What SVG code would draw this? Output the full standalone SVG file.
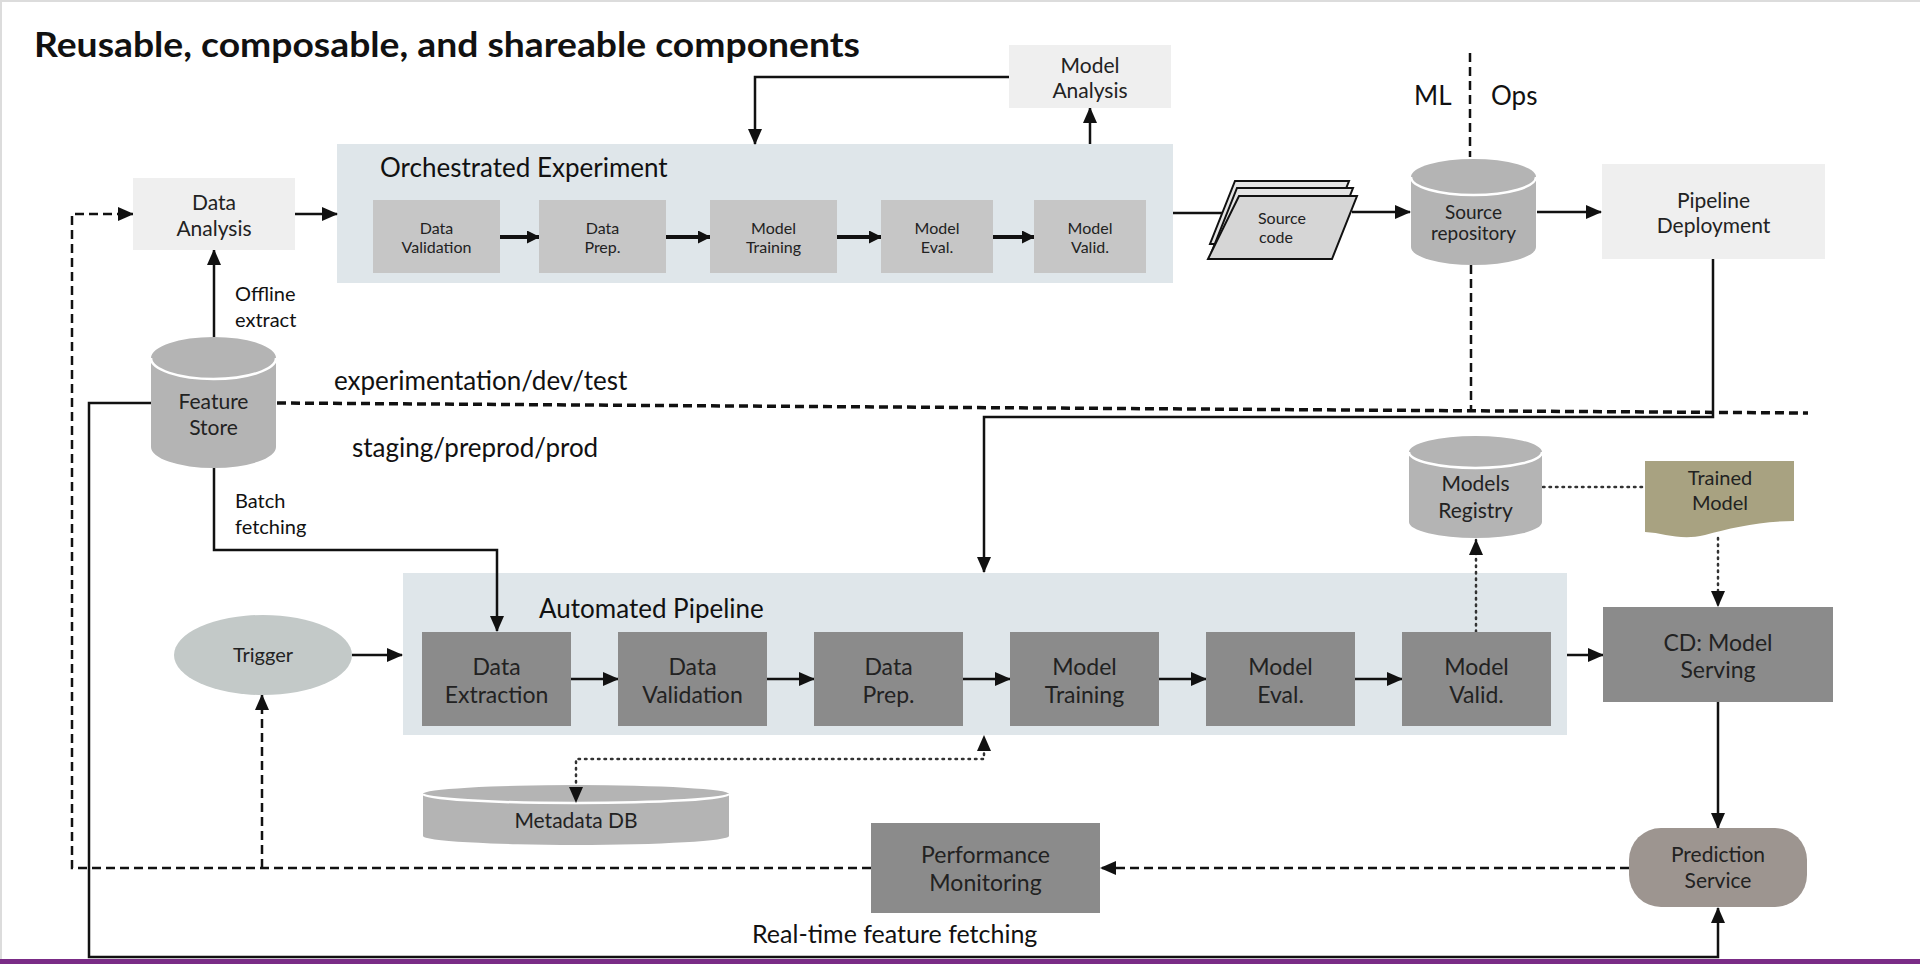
<svg xmlns="http://www.w3.org/2000/svg" width="1920" height="964" viewBox="0 0 1920 964">
<defs>
<style>
.t{font-family:Lato,"Liberation Sans",sans-serif;fill:#222;text-anchor:middle}
.lbl{font-family:Lato,"Liberation Sans",sans-serif;fill:#111}
.cont{fill:#dfe6ea}
.light{fill:#efefef}
.small{fill:#c6c6c6}
.dark{fill:#8b8b8b}
.cyl{fill:#b4b4b4}
.rim{fill:none;stroke:#fff;stroke-width:2.5}
.ln{fill:none;stroke:#111;stroke-width:2.5}
.thick{fill:none;stroke:#111;stroke-width:4}
.dash{fill:none;stroke:#111;stroke-width:2.5;stroke-dasharray:9 5}
.env{fill:none;stroke:#111;stroke-width:3.5;stroke-dasharray:9 5}
.dot{fill:none;stroke:#333;stroke-width:2.5;stroke-dasharray:1.5 5;stroke-linecap:round}
</style>
<marker id="ah" markerUnits="userSpaceOnUse" markerWidth="16" markerHeight="14" refX="15" refY="7" orient="auto-start-reverse" viewBox="0 0 16 14"><path d="M0,0 L16,7 L0,14 z" fill="#111"/></marker>
<marker id="ahs" markerUnits="userSpaceOnUse" markerWidth="13" markerHeight="13" refX="12" refY="6.5" orient="auto-start-reverse" viewBox="0 0 13 13"><path d="M0,0 L13,6.5 L0,13 z" fill="#111"/></marker>
</defs>
<rect x="0" y="0" width="1920" height="964" fill="#fff"/>
<line x1="0" y1="1" x2="1920" y2="1" stroke="#dcdcdc" stroke-width="2"/>
<line x1="1" y1="0" x2="1" y2="960" stroke="#dcdcdc" stroke-width="2"/>
<rect x="0" y="959" width="1920" height="5" fill="#7a2c86"/>

<text class="lbl" x="34" y="57" font-size="34" font-weight="bold" textLength="826" lengthAdjust="spacingAndGlyphs">Reusable, composable, and shareable components</text>

<!-- environment labels -->
<text class="lbl" x="334" y="390" font-size="26">experimentation/dev/test</text>
<text class="lbl" x="352" y="457" font-size="26">staging/preprod/prod</text>
<text class="lbl" x="1414" y="105" font-size="26">ML</text>
<text class="lbl" x="1491" y="105" font-size="26">Ops</text>
<text class="lbl" x="235" y="301" font-size="20">Offline</text>
<text class="lbl" x="235" y="327" font-size="20">extract</text>
<text class="lbl" x="235" y="508" font-size="20">Batch</text>
<text class="lbl" x="235" y="534" font-size="20">fetching</text>
<text class="lbl" x="752" y="943" font-size="25">Real-time feature fetching</text>

<!-- containers -->
<g id="orchestrated-experiment">
<rect class="cont" x="337" y="144" width="836" height="139"/>
<text class="lbl" x="380" y="177" font-size="26">Orchestrated Experiment</text>
</g>
<g id="automated-pipeline">
<rect class="cont" x="403" y="573" width="1164" height="162"/>
<text class="lbl" x="539" y="618" font-size="26">Automated Pipeline</text>
</g>

<!-- connectors -->
<g id="connectors">
<!-- environment separator & ML/Ops -->
<path class="env" d="M277,403 L1808,413"/>
<path class="dash" d="M1470,53 V157 M1471,265 V410"/>
<!-- top row -->
<path class="ln" d="M295,214 H337" marker-end="url(#ah)"/>
<path class="dash" d="M871,868 H72 V214 H133" marker-end="url(#ah)"/>
<path class="ln" d="M214,337 V250" marker-end="url(#ah)"/>
<path class="ln" d="M1009,77 H755 V144" marker-end="url(#ah)"/>
<path class="ln" d="M1090,144 V108" marker-end="url(#ah)"/>
<path class="thick" d="M500,237 H539" marker-end="url(#ahs)"/>
<path class="thick" d="M666,237 H710" marker-end="url(#ahs)"/>
<path class="thick" d="M837,237 H881" marker-end="url(#ahs)"/>
<path class="thick" d="M993,237 H1034" marker-end="url(#ahs)"/>
<path class="ln" d="M1173,213 H1230"/>
<path class="ln" d="M1352,212 H1410" marker-end="url(#ah)"/>
<path class="ln" d="M1537,212 H1601" marker-end="url(#ah)"/>
<!-- deployment to automated pipeline -->
<path class="ln" d="M1713,259 V417 H984 V572" marker-end="url(#ah)"/>
<!-- feature store batch fetching -->
<path class="ln" d="M214,468 V550 H497 V631" marker-end="url(#ah)"/>
<!-- real-time feature fetching -->
<path class="ln" d="M151,403 H89 V957 H1718 V908" marker-end="url(#ah)"/>
<!-- trigger -->
<path class="ln" d="M352,655 H402" marker-end="url(#ah)"/>
<path class="dash" d="M262,868 V695" marker-end="url(#ah)"/>
<!-- pipeline steps -->
<path class="ln" d="M571,679 H618" marker-end="url(#ah)"/>
<path class="ln" d="M767,679 H814" marker-end="url(#ah)"/>
<path class="ln" d="M963,679 H1010" marker-end="url(#ah)"/>
<path class="ln" d="M1159,679 H1206" marker-end="url(#ah)"/>
<path class="ln" d="M1355,679 H1402" marker-end="url(#ah)"/>
<path class="ln" d="M1567,655 H1603" marker-end="url(#ah)"/>
<!-- metadata -->
<path class="dot" d="M576,802 V759 H984 V736" marker-start="url(#ah)" marker-end="url(#ah)"/>
<!-- registry -->
<path class="dot" d="M1476,632 V540" marker-end="url(#ah)"/>
<path class="dot" d="M1543,487 H1645"/>
<path class="dot" d="M1718,538 V606" marker-end="url(#ah)"/>
<!-- serving -->
<path class="ln" d="M1718,702 V828" marker-end="url(#ah)"/>
<path class="dash" d="M1629,868 H1101" marker-end="url(#ah)"/>
</g>

<!-- nodes -->
<g id="data-analysis">
<rect class="light" x="133" y="178" width="162" height="72"/>
<text class="t" x="214" y="210" font-size="21">Data</text>
<text class="t" x="214" y="236" font-size="21">Analysis</text>
</g>
<g id="model-analysis">
<rect class="light" x="1009" y="45" width="162" height="63"/>
<text class="t" x="1090" y="73" font-size="21">Model</text>
<text class="t" x="1090" y="98" font-size="21">Analysis</text>
</g>
<g id="exp-data-validation">
<rect class="small" x="373" y="200" width="127" height="73"/>
<text class="t" x="436.5" y="234" font-size="16">Data</text>
<text class="t" x="436.5" y="253" font-size="16">Validation</text>
</g>
<g id="exp-data-prep">
<rect class="small" x="539" y="200" width="127" height="73"/>
<text class="t" x="602.5" y="234" font-size="16">Data</text>
<text class="t" x="602.5" y="253" font-size="16">Prep.</text>
</g>
<g id="exp-model-training">
<rect class="small" x="710" y="200" width="127" height="73"/>
<text class="t" x="773.5" y="234" font-size="16">Model</text>
<text class="t" x="773.5" y="253" font-size="16">Training</text>
</g>
<g id="exp-model-eval">
<rect class="small" x="881" y="200" width="112" height="73"/>
<text class="t" x="937" y="234" font-size="16">Model</text>
<text class="t" x="937" y="253" font-size="16">Eval.</text>
</g>
<g id="exp-model-valid">
<rect class="small" x="1034" y="200" width="112" height="73"/>
<text class="t" x="1090" y="234" font-size="16">Model</text>
<text class="t" x="1090" y="253" font-size="16">Valid.</text>
</g>
<g id="source-code">
<path d="M1235,181 H1349 L1324,244 H1210 Z" fill="#e4e4e4" stroke="#111" stroke-width="2"/>
<path d="M1237,188 H1353 L1328,251 H1212 Z" fill="#e4e4e4" stroke="#111" stroke-width="2"/>
<path d="M1239,196 H1357 L1332,259 H1208 Z" fill="#d6d6d6" stroke="#111" stroke-width="2"/>
<text class="t" x="1282" y="224" font-size="16">Source</text>
<text class="t" x="1276" y="243" font-size="16">code</text>
</g>
<g id="source-repository">
<path class="cyl" d="M1411,177 A62.5,18 0 0 1 1536,177 V247 A62.5,18 0 0 1 1411,247 Z"/>
<path class="rim" d="M1411,177 A62.5,18 0 0 0 1536,177"/>
<text class="t" x="1473.5" y="219" font-size="19">Source</text>
<text class="t" x="1473.5" y="240" font-size="19">repository</text>
</g>
<g id="pipeline-deployment">
<rect class="light" x="1602" y="164" width="223" height="95"/>
<text class="t" x="1713.5" y="208" font-size="21">Pipeline</text>
<text class="t" x="1713.5" y="233" font-size="21">Deployment</text>
</g>
<g id="feature-store">
<path class="cyl" d="M151,358 A62.5,21 0 0 1 276,358 V447 A62.5,21 0 0 1 151,447 Z"/>
<path class="rim" d="M151,358 A62.5,21 0 0 0 276,358"/>
<text class="t" x="213.5" y="409" font-size="21">Feature</text>
<text class="t" x="213.5" y="435" font-size="21">Store</text>
</g>
<g id="models-registry">
<path class="cyl" d="M1409,452 A66.5,16 0 0 1 1542,452 V522 A66.5,16 0 0 1 1409,522 Z"/>
<path class="rim" d="M1409,452 A66.5,16 0 0 0 1542,452"/>
<text class="t" x="1475.5" y="491" font-size="21">Models</text>
<text class="t" x="1475.5" y="518" font-size="21">Registry</text>
</g>
<g id="trained-model">
<path d="M1645,461 H1794 V521 C1760,521 1730,528 1705,535 C1680,541 1665,533 1645,532 Z" fill="#a8a281"/>
<text class="t" x="1720" y="485" font-size="20">Trained</text>
<text class="t" x="1720" y="510" font-size="20">Model</text>
</g>
<g id="trigger">
<ellipse cx="263" cy="655" rx="89" ry="40" fill="#c3c9c8"/>
<text class="t" x="263" y="662" font-size="20">Trigger</text>
</g>
<g id="data-extraction">
<rect class="dark" x="422" y="632" width="149" height="94"/>
<text class="t" x="496.5" y="675" font-size="23">Data</text>
<text class="t" x="496.5" y="703" font-size="23">Extraction</text>
</g>
<g id="data-validation">
<rect class="dark" x="618" y="632" width="149" height="94"/>
<text class="t" x="692.5" y="675" font-size="23">Data</text>
<text class="t" x="692.5" y="703" font-size="23">Validation</text>
</g>
<g id="data-prep">
<rect class="dark" x="814" y="632" width="149" height="94"/>
<text class="t" x="888.5" y="675" font-size="23">Data</text>
<text class="t" x="888.5" y="703" font-size="23">Prep.</text>
</g>
<g id="model-training">
<rect class="dark" x="1010" y="632" width="149" height="94"/>
<text class="t" x="1084.5" y="675" font-size="23">Model</text>
<text class="t" x="1084.5" y="703" font-size="23">Training</text>
</g>
<g id="model-eval">
<rect class="dark" x="1206" y="632" width="149" height="94"/>
<text class="t" x="1280.5" y="675" font-size="23">Model</text>
<text class="t" x="1280.5" y="703" font-size="23">Eval.</text>
</g>
<g id="model-valid">
<rect class="dark" x="1402" y="632" width="149" height="94"/>
<text class="t" x="1476.5" y="675" font-size="23">Model</text>
<text class="t" x="1476.5" y="703" font-size="23">Valid.</text>
</g>
<g id="cd-model-serving">
<rect class="dark" x="1603" y="607" width="230" height="95"/>
<text class="t" x="1718" y="651" font-size="23">CD: Model</text>
<text class="t" x="1718" y="678" font-size="23">Serving</text>
</g>
<g id="metadata-db">
<path class="cyl" d="M423,794 A153,9 0 0 1 729,794 V836 A153,9 0 0 1 423,836 Z"/>
<path class="rim" d="M423,794 A153,9 0 0 0 729,794"/>
<text class="t" x="576" y="828" font-size="21">Metadata DB</text>
</g>
<g id="performance-monitoring">
<rect class="dark" x="871" y="823" width="229" height="90"/>
<text class="t" x="985.5" y="863" font-size="23">Performance</text>
<text class="t" x="985.5" y="891" font-size="23">Monitoring</text>
</g>
<g id="prediction-service">
<rect x="1629" y="828" width="178" height="79" rx="32" ry="32" fill="#9d9590"/>
<text class="t" x="1718" y="862" font-size="21">Prediction</text>
<text class="t" x="1718" y="888" font-size="21">Service</text>
</g>
<!-- redraw metadata dotted arrowhead on top of cylinder -->
<path class="dot" d="M576,790 V802" marker-end="url(#ah)" stroke="none"/>
</svg>
